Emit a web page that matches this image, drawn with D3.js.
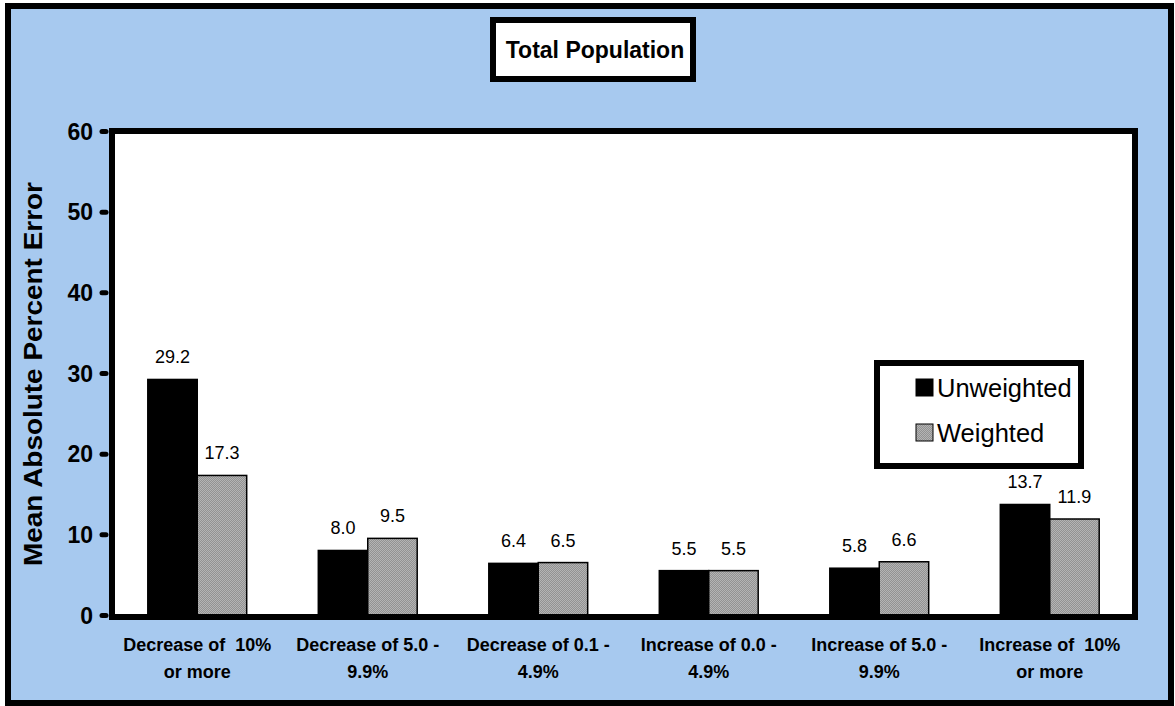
<!DOCTYPE html>
<html><head><meta charset="utf-8">
<script src="https://cdn.jsdelivr.net/npm/d3@7"></script>
<style>body{margin:0;background:#fff}svg{display:block;font-family:Arial,"Liberation Sans",sans-serif}</style>
</head><body>
<svg id="c" width="1175" height="706"></svg>
<script>
const categories = [["Decrease of  10%","or more"],["Decrease of 5.0 -","9.9%"],["Decrease of 0.1 -","4.9%"],["Increase of 0.0 -","4.9%"],["Increase of 5.0 -","9.9%"],["Increase of  10%","or more"]];
const unweighted = [29.2, 8.0, 6.4, 5.5, 5.8, 13.7];
const weighted = [17.3, 9.5, 6.5, 5.5, 6.6, 11.9];
const seriesNames = ["Unweighted", "Weighted"];
const yTicks = [0,10,20,30,40,50,60];

const svg = d3.select("#c");
const defs = svg.append("defs");
const pat = defs.append("pattern").attr("id","hatch").attr("patternUnits","userSpaceOnUse").attr("width",2).attr("height",2);
pat.append("rect").attr("width",2).attr("height",2).attr("fill","#b4b4b4");
pat.append("path").attr("d","M0,2 L2,0 M-1,1 L1,-1 M1,3 L3,1").attr("stroke","#7a7a7a").attr("stroke-width",0.6);

// background + outer border
svg.append("rect").attr("x",8).attr("y",6).attr("width",1163).attr("height",697).attr("fill","#a7c9ef").attr("stroke","#000").attr("stroke-width",6);

const L=112, R=1135, T=131, B=615;
const x0 = d3.scaleBand().domain(d3.range(categories.length)).range([L,R]).paddingInner(0.42).paddingOuter(0.21);
const x1 = d3.scaleBand().domain([0,1]).range([0,x0.bandwidth()]);
const y = d3.scaleLinear().domain([0,60]).range([B,T]);

// plot area
svg.append("rect").attr("x",L).attr("y",T).attr("width",R-L).attr("height",B-T+2).attr("fill","#fff");

const data = [unweighted, weighted];
const g = svg.append("g");
categories.forEach((c,i)=>{
  [0,1].forEach(s=>{
    const v = data[s][i];
    const bx = x0(i)+x1(s);
    g.append("rect").attr("x",bx).attr("y",y(v)).attr("width",x1.bandwidth()).attr("height",y(0)-y(v))
      .attr("fill", s===0?"#000":"url(#hatch)").attr("stroke","#000").attr("stroke-width",1.5);
    g.append("text").attr("x",bx+x1.bandwidth()/2).attr("y",y(v)-16).attr("text-anchor","middle")
      .attr("font-size",18).attr("fill","#000").text(v.toFixed(1));
  });
  const t = svg.append("text").attr("text-anchor","middle").attr("font-size",18).attr("font-weight","bold");
  c.forEach((line,k)=>t.append("tspan").attr("x",x0(i)+x0.bandwidth()/2).attr("y",651+k*27).text(line).style("white-space","pre"));
});

// plot border
svg.append("rect").attr("x",L).attr("y",T).attr("width",R-L).attr("height",B-T+2).attr("fill","none").attr("stroke","#000").attr("stroke-width",6);

// y axis
const yAxis = d3.axisLeft(y).tickValues(yTicks).tickSize(7).tickPadding(6);
const ya = svg.append("g").attr("transform",`translate(${L-3},0)`).call(yAxis);
ya.select(".domain").remove();
ya.selectAll(".tick line").attr("stroke","#000").attr("stroke-width",5).attr("stroke-linecap","round").attr("x1",-3).attr("x2",-7);
ya.selectAll(".tick text").attr("font-size",23).attr("font-weight","bold").attr("fill","#000").attr("font-family","Arial,'Liberation Sans',sans-serif").attr("x",-16).attr("dy","0.35em");

svg.append("text").attr("transform","translate(42,374) rotate(-90)").attr("text-anchor","middle")
  .attr("font-size",26).attr("font-weight","bold").attr("textLength",384).attr("lengthAdjust","spacingAndGlyphs").text("Mean Absolute Percent Error");

// title
svg.append("rect").attr("x",493).attr("y",20).attr("width",200).attr("height",59).attr("fill","#fff").attr("stroke","#000").attr("stroke-width",6);
svg.append("text").attr("x",595).attr("y",58).attr("text-anchor","middle").attr("font-size",23).attr("font-weight","bold").text("Total Population");

// legend
svg.append("rect").attr("x",877).attr("y",363).attr("width",204).attr("height",103).attr("fill","#fff").attr("stroke","#000").attr("stroke-width",6);
seriesNames.forEach((n,i)=>{
  const yy = 388 + i*45;
  svg.append("rect").attr("x",916).attr("y",yy-9).attr("width",17).attr("height",17).attr("fill",i===0?"#000":"url(#hatch)").attr("stroke","#000").attr("stroke-width",1);
  svg.append("text").attr("x",937).attr("y",yy+9).attr("font-size",25.5).text(n);
});
</script>
</body></html>
